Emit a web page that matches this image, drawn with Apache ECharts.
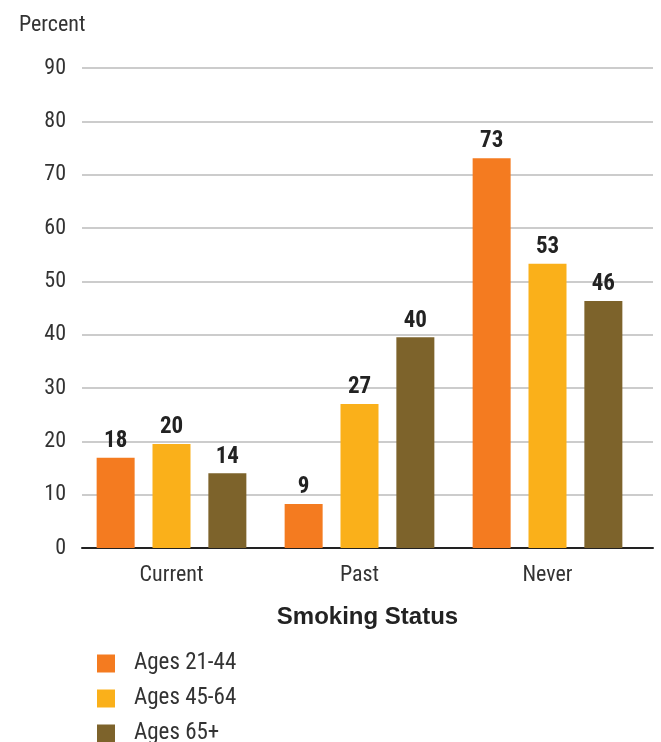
<!DOCTYPE html>
<html>
<head>
<meta charset="utf-8">
<script src="https://cdn.jsdelivr.net/npm/echarts@6/dist/echarts.min.js"></script>
<style>html,body{margin:0;padding:0;background:#fff;}#c{width:661px;height:742px;}</style>
</head>
<body>
<div id="c"></div>
<script>
const categories = ['Current', 'Past', 'Never'];
const seriesNames = ['Ages 21-44', 'Ages 45-64', 'Ages 65+'];
const ages21to44 = [16.9, 8.25, 73.1];
const ages45to64 = [19.5, 27.0, 53.3];
const ages65plus = [14.0, 39.5, 46.3];
const labels21to44 = [18, 9, 73];
const labels45to64 = [20, 27, 53];
const labels65plus = [14, 40, 46];
const yTicks = [0, 10, 20, 30, 40, 50, 60, 70, 80, 90];
const colors = ['#F47B20', '#FAB01A', '#7D632B'];

const NARROW = "'Liberation Sans Narrow', 'Roboto Condensed', 'Liberation Sans', sans-serif";
const WIDE = "'Liberation Sans', Arial, sans-serif";

const values = [ages21to44, ages45to64, ages65plus];
const labelArrays = [labels21to44, labels45to64, labels65plus];

const chart = echarts.init(document.getElementById('c'), null, {renderer: 'canvas'});
chart.setOption({
  animation: false,
  backgroundColor: '#fff',
  title: {
    text: 'Percent', left: 14, top: 9,
    textStyle: {fontFamily: NARROW, fontSize: 22, fontWeight: 'normal', color: '#333'}
  },
  legend: {
    orient: 'vertical', left: 97, top: 652, height: 140, padding: 0,
    itemWidth: 18, itemHeight: 18, itemGap: 12,
    icon: 'rect',
    data: seriesNames,
    textStyle: {fontFamily: NARROW, fontSize: 23, color: '#333', padding: [0, 0, 0, 14]}
  },
  grid: [
    {left: 82, right: 8, top: 68, bottom: 194},
    {left: 77.5, right: 19.5, top: 68, bottom: 194}
  ],
  xAxis: [
    {
      type: 'category', gridIndex: 0, data: categories,
      axisLine: {show: true, lineStyle: {color: '#222', width: 2}},
      axisTick: {show: false}, axisLabel: {show: false},
      name: 'Smoking Status', nameLocation: 'middle', nameGap: 57,
      nameTextStyle: {fontFamily: WIDE, fontSize: 24, fontWeight: 'bold', color: '#222'}
    },
    {
      type: 'category', gridIndex: 1, data: categories,
      axisLine: {show: false}, axisTick: {show: false},
      axisLabel: {margin: 16, fontFamily: NARROW, fontSize: 22, color: '#333'}
    }
  ],
  yAxis: [
    {
      type: 'value', gridIndex: 0, min: yTicks[0], max: yTicks[yTicks.length - 1], interval: 10,
      axisLine: {show: false}, axisTick: {show: false},
      axisLabel: {margin: 16, fontFamily: NARROW, fontSize: 22, color: '#333'},
      splitLine: {lineStyle: {color: '#cccccc', width: 2}}
    },
    {
      type: 'value', gridIndex: 1, min: yTicks[0], max: yTicks[yTicks.length - 1], interval: 10,
      show: false, splitLine: {show: false}
    }
  ],
  series: seriesNames.map((name, i) => ({
    name: name, type: 'bar', xAxisIndex: 1, yAxisIndex: 1,
    data: values[i], barWidth: 38, barGap: '47%',
    itemStyle: {color: colors[i]},
    label: {
      show: true, position: 'top', distance: 5,
      formatter: p => String(labelArrays[i][p.dataIndex]),
      fontFamily: NARROW, fontSize: 23, fontWeight: 'bold', color: '#222'
    }
  }))
});
</script>
</body>
</html>
